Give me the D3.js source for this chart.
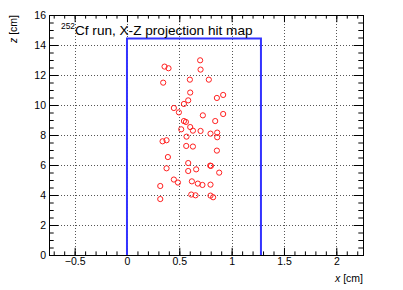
<!DOCTYPE html>
<html lang="en">
<head>
    <meta charset="utf-8">
    <script src="https://d3js.org/d3.v7.min.js"></script>
    <style>
        body { margin: 0; background: #fff; }
        text { font-family: "Liberation Sans", Arial, sans-serif; }
    </style>
</head>
<body>
    <script>
        // hit positions (x in cm, z in cm)
        const hitX = [0.699, 0.359, 0.397, 0.703, 0.346, 0.601, 0.782, 0.604, 0.919, 0.859,
            0.585, 0.544, 0.448, 0.496, 0.725, 0.919, 0.843, 0.544, 0.563, 0.604,
            0.630, 0.518, 0.703, 0.798, 0.862, 0.862, 0.569, 0.340, 0.378, 0.566,
            0.630, 0.859, 0.391, 0.585, 0.795, 0.802, 0.378, 0.585, 0.661, 0.881,
            0.448, 0.487, 0.620, 0.677, 0.721, 0.798, 0.318, 0.614, 0.655, 0.798,
            0.823, 0.318];
        const hitZ = [12.98, 12.56, 12.45, 12.36, 11.49, 11.69, 11.69, 10.83, 10.67, 10.47,
            10.31, 10.07, 9.80, 9.51, 9.31, 9.40, 8.93, 8.93, 8.87, 8.53,
            8.29, 8.38, 8.27, 8.09, 8.16, 7.85, 7.89, 7.58, 7.65, 7.27,
            7.23, 6.96, 6.53, 6.13, 5.96, 5.94, 5.78, 5.60, 5.71, 5.49,
            5.03, 4.83, 4.91, 4.76, 4.67, 4.69, 4.60, 4.03, 3.98, 3.96,
            3.85, 3.73];
        // detector outline
        const boxX = [0, 0, 1.28, 1.28];
        const boxZ = [0, 14.43, 14.43, 0];

        const xTicks = [-0.5, 0, 0.5, 1, 1.5, 2];
        const yTicks = [0, 2, 4, 6, 8, 10, 12, 14, 16];

        const width = 403, height = 290;
        const mLeft = 49, mRight = 363, mTop = 15, mBottom = 255;

        const svg = d3.select("body").append("svg")
            .attr("width", width)
            .attr("height", height);

        const x = d3.scaleLinear().domain([-0.745, 2.255]).range([mLeft, mRight]);
        const y = d3.scaleLinear().domain([0, 16]).range([mBottom, mTop]);

        // grid
        const grid = svg.append("g")
            .attr("stroke", "#555").attr("stroke-width", 1).attr("stroke-dasharray", "1,2");
        xTicks.forEach(t => {
            grid.append("line")
                .attr("x1", Math.round(x(t)) + 0.5).attr("x2", Math.round(x(t)) + 0.5)
                .attr("y1", mTop).attr("y2", mBottom);
        });
        yTicks.forEach(t => {
            grid.append("line")
                .attr("y1", Math.round(y(t)) + 0.5).attr("y2", Math.round(y(t)) + 0.5)
                .attr("x1", mLeft).attr("x2", mRight);
        });

        // axes: major + minor ticks on all four sides
        const xMinor = d3.range(-0.7, 2.25, 0.1).map(v => +v.toFixed(2));
        const yMinor = d3.range(0, 16.01, 0.5);

        svg.append("g")
            .attr("transform", `translate(0,${mBottom})`)
            .call(d3.axisBottom(x).tickValues(xMinor).tickSize(-3.6).tickFormat(""))
            .call(g => g.select(".domain").remove());
        svg.append("g")
            .attr("transform", `translate(0,${mBottom})`)
            .call(d3.axisBottom(x).tickValues(xTicks).tickSize(-7.2).tickPadding(3)
                .tickFormat(d => d3.format("")(d).replace("-", "\u2212")))
            .call(g => g.select(".domain").remove())
            .call(g => g.selectAll("text").attr("font-size", 10.5).attr("fill", "#000"));
        svg.append("g")
            .attr("transform", `translate(0,${mTop})`)
            .call(d3.axisTop(x).tickValues(xMinor).tickSize(-3.6).tickFormat(""))
            .call(g => g.select(".domain").remove());
        svg.append("g")
            .attr("transform", `translate(0,${mTop})`)
            .call(d3.axisTop(x).tickValues(xTicks).tickSize(-7.2).tickFormat(""))
            .call(g => g.select(".domain").remove());

        svg.append("g")
            .attr("transform", `translate(${mLeft},0)`)
            .call(d3.axisLeft(y).tickValues(yMinor).tickSize(-4.7).tickFormat(""))
            .call(g => g.select(".domain").remove());
        svg.append("g")
            .attr("transform", `translate(${mLeft},0)`)
            .call(d3.axisLeft(y).tickValues(yTicks).tickSize(-9.4).tickPadding(3))
            .call(g => g.select(".domain").remove())
            .call(g => g.selectAll("text").attr("font-size", 10.5).attr("fill", "#000"));
        svg.append("g")
            .attr("transform", `translate(${mRight},0)`)
            .call(d3.axisRight(y).tickValues(yMinor).tickSize(-4.7).tickFormat(""))
            .call(g => g.select(".domain").remove());
        svg.append("g")
            .attr("transform", `translate(${mRight},0)`)
            .call(d3.axisRight(y).tickValues(yTicks).tickSize(-9.4).tickFormat(""))
            .call(g => g.select(".domain").remove());

        svg.selectAll(".tick line").attr("stroke", "#000");

        // frame
        svg.append("rect")
            .attr("x", mLeft + 0.5).attr("y", mTop + 0.5)
            .attr("width", mRight - mLeft).attr("height", mBottom - mTop)
            .attr("fill", "none").attr("stroke", "#000").attr("stroke-width", 1);

        // detector outline
        const boxPts = boxX.map((v, i) => [v, boxZ[i]]);
        svg.append("path")
            .datum(boxPts)
            .attr("fill", "none").attr("stroke", "#3333ff").attr("stroke-width", 2)
            .attr("d", d3.line().x(d => x(d[0])).y(d => y(d[1])));

        // hits
        svg.append("g").selectAll("circle")
            .data(hitX.map((v, i) => [v, hitZ[i]]))
            .join("circle")
            .attr("cx", d => x(d[0]))
            .attr("cy", d => y(d[1]))
            .attr("r", 2.6)
            .attr("fill", "none").attr("stroke", "#ff2020").attr("stroke-width", 1);

        // title
        const title = svg.append("text").attr("x", 61).attr("y", 35).attr("font-size", 13.6).attr("fill", "#000");
        title.append("tspan").attr("font-size", 8.4).attr("dy", -6).text("252");
        title.append("tspan").attr("dy", 6).text("Cf run, X-Z projection hit map");

        // axis titles
        svg.append("text")
            .attr("x", mRight).attr("y", 282)
            .attr("text-anchor", "end").attr("font-size", 10.5)
            .html("<tspan font-style='italic'>x</tspan> [cm]");
        svg.append("text")
            .attr("transform", `translate(17,${mTop}) rotate(-90)`)
            .attr("text-anchor", "end").attr("font-size", 10.5)
            .html("<tspan font-style='italic'>z</tspan> [cm]");
    </script>
</body>
</html>
